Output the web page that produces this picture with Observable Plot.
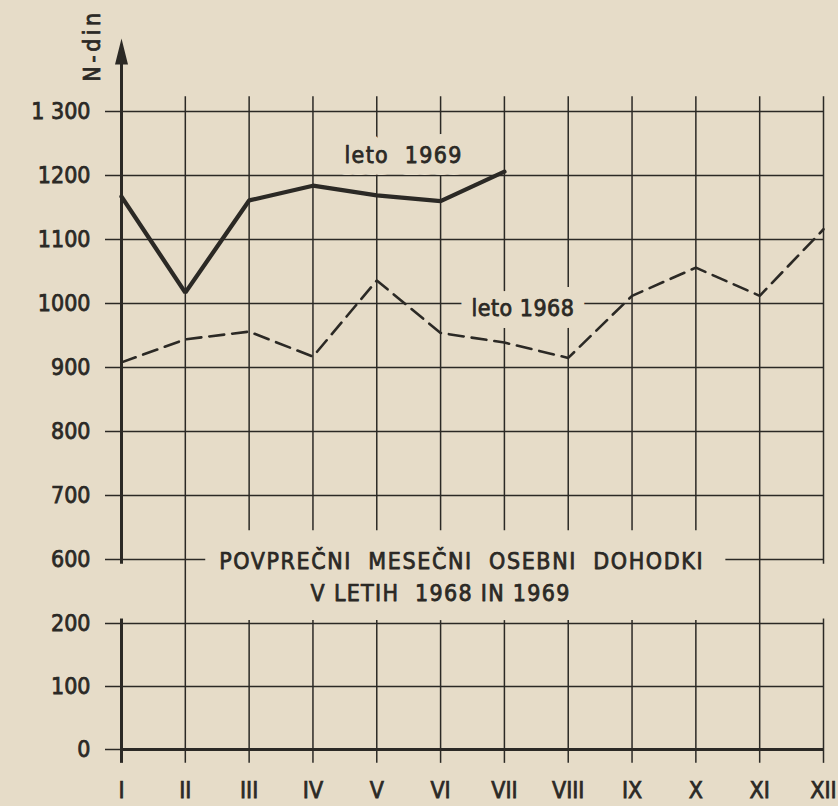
<!DOCTYPE html>
<html><head><meta charset="utf-8">
<script src="https://cdn.jsdelivr.net/npm/d3@7"></script>
<script src="https://cdn.jsdelivr.net/npm/@observablehq/plot@0.6"></script>
<style>
html,body{margin:0;padding:0;background:#e6dcc8;}
#chart svg{display:block;}
#chart g[aria-label="y-axis tick label"], #chart g[aria-label="x-axis tick label"]{stroke:#2b2925;stroke-width:0.75px;}
</style></head><body><div id="chart"></div>
<script>
// ---- data ----
const months = ["I","II","III","IV","V","VI","VII","VIII","IX","X","XI","XII"];
const income1968 = [908, 944, 956, 917, 1036, 954, 939, 915, 1012, 1056, 1012, 1116];
const income1969 = [1167, 1017, 1161, 1184, 1169, 1160, 1206];
const yTicks = [0, 100, 200, 600, 700, 800, 900, 1000, 1100, 1200, 1300];
const yTickLabels = ["0","100","200","600","700","800","900","1000","1100","1200","1 300"];
const seriesLabels = [
  {text: "leto  1969", month: 5.42, value: 1231},
  {text: "leto 1968", month: 7.29, value: 992}
];
const titleLines = [
  {text: "POVPREČNI  MESEČNI  OSEBNI  DOHODKI", month: 6.33, value: 584},
  {text: "V LETIH  1968 IN 1969", month: 6.0, value: 384}
];
const yUnit = "N-din";

// ---- layout / style ----
const paper = "#e6dcc8", ink = "#2b2925";
const font = "'DejaVu Sans Condensed', 'DejaVu Sans', sans-serif";
const yDomain = [0, 200, 600, 1300];
const yRange = [749, 623, 559, 111];
const gridTop = 1323, gridBottom = -22;
const breakLow = 218, breakHigh = 645;         // window left for the title
const edgeBreakLow = 228, edgeBreakHigh = 570; // break of the outer verticals
const arrowBase = 1375;
const titleGapLeft = 2.32, titleGapRight = 10.47;

const monthIdx = months.map((m, i) => i + 1);

// vertical grid segments
const vSegs = [];
for (const m of monthIdx.slice(1)) {
  if (m === 2 || m === 11) vSegs.push({m, y1: gridBottom, y2: gridTop});
  else if (m === 12) { vSegs.push({m, y1: gridBottom, y2: edgeBreakLow}); vSegs.push({m, y1: edgeBreakHigh, y2: gridTop}); }
  else { vSegs.push({m, y1: gridBottom, y2: breakLow}); vSegs.push({m, y1: breakHigh, y2: gridTop}); }
}
const axisSegs = [{m: 1, y1: gridBottom, y2: edgeBreakLow}, {m: 1, y1: edgeBreakHigh, y2: arrowBase}];

// horizontal grid segments
const hSegs = [];
for (const v of yTicks) {
  if (v === 0) continue;
  if (v === 600) { hSegs.push({v, x1: 1, x2: titleGapLeft}); hSegs.push({v, x1: titleGapRight, x2: 12}); }
  else hSegs.push({v, x1: 1, x2: 12});
}

const arrowHead = {draw(ctx) { ctx.moveTo(0, -25); ctx.lineTo(6.5, 1); ctx.lineTo(-6.5, 1); ctx.closePath(); }};

const chart = Plot.plot({
  width: 838, height: 806,
  marginLeft: 121, marginRight: 15, marginTop: 40, marginBottom: 57,
  x: {domain: [1, 12]},
  y: {type: "linear", domain: yDomain, range: yRange},
  style: {background: paper, color: ink, fontFamily: font, fontSize: "23px"},
  marks: [
    Plot.ruleY(hSegs, {y: "v", x1: "x1", x2: "x2", stroke: ink, strokeWidth: 1.5}),
    Plot.ruleY([0], {x1: 1, x2: 12, stroke: ink, strokeWidth: 3}),
    Plot.ruleX(vSegs, {x: "m", y1: "y1", y2: "y2", stroke: ink, strokeWidth: 1.5}),
    Plot.ruleX(axisSegs, {x: "m", y1: "y1", y2: "y2", stroke: ink, strokeWidth: 3}),
    Plot.dot([arrowBase], {x: 1, y: d => d, symbol: arrowHead, fill: ink, stroke: "none"}),
    Plot.axisY({ticks: yTicks, tickFormat: d => yTickLabels[yTicks.indexOf(d)], tickSize: 16, tickPadding: 15,
      strokeWidth: 1.5, color: ink, fontSize: 23, label: null}),
    Plot.axisX({ticks: monthIdx, tickFormat: d => months[d - 1], tickSize: 0, tickPadding: 32,
      color: ink, fontSize: 23, label: null}),
    Plot.line(income1968, {x: (d, i) => i + 1, y: d => d, stroke: ink, strokeWidth: 2.6,
      strokeDasharray: "15,8", strokeLinejoin: "miter"}),
    Plot.line(income1969, {x: (d, i) => i + 1, y: d => d, stroke: ink, strokeWidth: 4.3,
      strokeLinejoin: "miter"}),
    // label halos, then the labels themselves
    Plot.text(seriesLabels, {x: "month", y: "value", text: "text", fontSize: 23,
      fill: paper, stroke: paper, strokeWidth: 24}),
    Plot.text(seriesLabels, {x: "month", y: "value", text: "text", fontSize: 23,
      fill: ink, stroke: ink, strokeWidth: 0.75}),
    Plot.text(titleLines, {x: "month", y: "value", text: "text", fontSize: 23,
      fill: ink, stroke: ink, strokeWidth: 0.75}),
    Plot.text([yUnit], {x: 0.545, y: 1403, text: d => d, rotate: -90, fontSize: 23,
      fill: ink, stroke: ink, strokeWidth: 0.75})
  ]
});
// letter spacing of the annotation texts (Plot.text has no option for it)
const spacing = new Map([
  [titleLines[0].text, "1.6px"],
  [titleLines[1].text, "1.3px"],
  [seriesLabels[0].text, "1.3px"],
  [seriesLabels[1].text, "0.5px"],
  [yUnit, "3.5px"]
]);
d3.select(chart).selectAll("text").each(function() {
  const s = spacing.get(this.textContent);
  if (s) this.style.letterSpacing = s;
});
document.getElementById("chart").append(chart);
</script>
</body></html>
